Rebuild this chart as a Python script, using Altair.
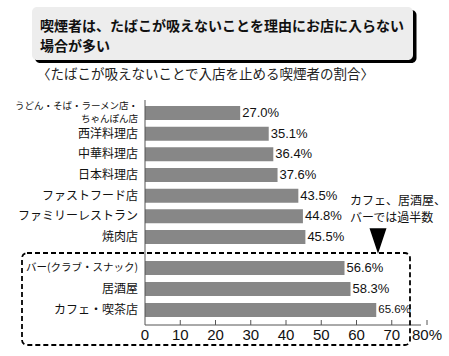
import altair as alt
import pandas as pd

# ---- text / data ----
title_lines = ["喫煙者は、たばこが吸えないことを理由にお店に入らない", "場合が多い"]
subtitle = "〈たばこが吸えないことで入店を止める喫煙者の割合〉"
note_lines = ["カフェ、居酒屋、", "バーでは過半数"]

cats_top = ["うどん・そば・ラーメン店・\nちゃんぽん店", "西洋料理店", "中華料理店", "日本料理店",
            "ファストフード店", "ファミリーレストラン", "焼肉店"]
vals_top = [27.0, 35.1, 36.4, 37.6, 43.5, 44.8, 45.5]
cats_bot = ["バー(クラブ・スナック)", "居酒屋", "カフェ・喫茶店"]
vals_bot = [56.6, 58.3, 65.6]
x_ticks = [0, 10, 20, 30, 40, 50, 60, 70, 80]

JP = "Noto Sans CJK JP"
LAT = "Liberation Sans, Arial, Helvetica, sans-serif"
W, H = 282, 225
BAR = "#878787"
AX = "#555"

xscale = alt.Scale(domain=[0, 80], nice=False, zero=True)


def group(cats, vals, yrange):
    df = pd.DataFrame({"category": cats, "value": vals})
    base = alt.Chart(df).encode(
        y=alt.Y("category:N", sort=None, axis=None,
                scale=alt.Scale(range=yrange, paddingInner=0, paddingOuter=0))
    )
    bars = base.mark_bar(size=14, color=BAR).encode(
        x=alt.X("value:Q", scale=xscale, axis=None))
    vtext = base.transform_calculate(
        lbl="format(datum.value, '.1f') + '%'"
    ).mark_text(align="left", baseline="middle", dx=2, font=LAT, color="#111").encode(
        x=alt.X("value:Q", scale=xscale, axis=None),
        text="lbl:N",
        size=alt.condition("datum.value > 60", alt.value(11.5), alt.value(13)),
    )
    single = base.transform_filter(
        "indexof(datum.category, '\\n') < 0"
    ).mark_text(align="right", baseline="middle", dx=-7, font=JP, color="#111").encode(
        x=alt.value(0),
        text="category:N",
        size=alt.condition("length(datum.category) > 10", alt.value(10.5), alt.value(12)),
    )
    multi = base.transform_filter("indexof(datum.category, '\\n') >= 0").transform_calculate(
        l1="split(datum.category, '\\n')[0]", l2="split(datum.category, '\\n')[1]")
    m1 = multi.mark_text(align="right", baseline="middle", dx=-7, dy=-7.5, font=JP,
                         fontSize=9.5, color="#111").encode(x=alt.value(0), text="l1:N")
    m2 = multi.mark_text(align="right", baseline="middle", dx=-7, dy=6, font=JP,
                         fontSize=9.5, color="#111").encode(x=alt.value(0), text="l2:N")
    return alt.layer(bars, vtext, single, m1, m2)


def deco():
    return alt.Chart(alt.Data(values=[{}]))


top = group(cats_top, vals_top, [2.7, 147.3])
bot = group(cats_bot, vals_bot, [157.5, 220.5])

tick_df = pd.DataFrame({"t": x_ticks})
ticks = alt.Chart(tick_df).transform_filter("datum.t > 0").mark_rule(color=AX).encode(
    x=alt.X("t:Q", scale=xscale, axis=None), y=alt.value(H - 5), y2=alt.value(H))
tick_labels = alt.Chart(tick_df).transform_calculate(
    lbl="datum.t == 80 ? '80%' : '' + datum.t"
).mark_text(align="center", baseline="top", font=LAT, fontSize=15, color="#111").encode(
    x=alt.X("t:Q", scale=xscale, axis=None), y=alt.value(H + 3), text="lbl:N")

xline = deco().mark_rule(color=AX, strokeWidth=1).encode(
    x=alt.value(0), x2=alt.value(W - 6), y=alt.value(H))
yline = deco().mark_rule(color=AX, strokeWidth=1).encode(
    x=alt.value(0), y=alt.value(0), y2=alt.value(H))

shadow = deco().mark_rect(color="black", cornerRadius=5).encode(
    x=alt.value(-110), x2=alt.value(271.5), y=alt.value(-90), y2=alt.value(-37))
box = deco().mark_rect(color="#ededed", cornerRadius=5).encode(
    x=alt.value(-113), x2=alt.value(268), y=alt.value(-93), y2=alt.value(-40))

t1 = deco().mark_text(align="left", baseline="middle", font=JP, fontSize=14,
                      fontWeight="bold", color="#111").encode(
    x=alt.value(-105), y=alt.value(-73), text=alt.value(title_lines[0]))
t2 = deco().mark_text(align="left", baseline="middle", font=JP, fontSize=14,
                      fontWeight="bold", color="#111").encode(
    x=alt.value(-105), y=alt.value(-53), text=alt.value(title_lines[1]))
sub = deco().mark_text(align="left", baseline="middle", font=JP, fontSize=13.5,
                       color="#222").encode(
    x=alt.value(-108), y=alt.value(-25), text=alt.value(subtitle))

n1 = deco().mark_text(align="left", baseline="middle", font=JP, fontSize=12,
                      color="#111").encode(
    x=alt.value(205), y=alt.value(101), text=alt.value(note_lines[0]))
n2 = deco().mark_text(align="left", baseline="middle", font=JP, fontSize=12,
                      color="#111").encode(
    x=alt.value(205), y=alt.value(118), text=alt.value(note_lines[1]))

dashed = deco().mark_rect(fill="white", fillOpacity=0, stroke="black", strokeWidth=1.8,
                          strokeDash=[5, 3], cornerRadius=5).encode(
    x=alt.value(-123), x2=alt.value(265), y=alt.value(153), y2=alt.value(245))

tri = deco().mark_point(shape="M-1,-1.5L1,-1.5L0,1.5Z", filled=True, color="black",
                        opacity=1, size=289).encode(
    x=alt.value(233), y=alt.value(141))

chart = alt.layer(
    shadow, box, t1, t2, sub, top, bot, xline, yline, ticks, tick_labels,
    n1, n2, dashed, tri
).resolve_scale(
    y="independent"
).properties(
    width=W, height=H,
    autosize=alt.AutoSizeParams(type="none"),
    padding={"left": 145, "top": 100, "right": 22, "bottom": 31},
    background="white",
).configure_view(stroke=None)

chart.save("out.html", embed_options={"renderer": "svg", "actions": False})
